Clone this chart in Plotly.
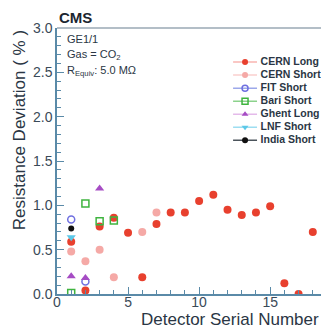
import plotly.graph_objects as go

# ---- data ----
cern_long_x = [1, 2, 3, 4, 5, 6, 7, 8, 9, 10, 11, 12, 13, 14, 15, 16, 17, 18]
cern_long_y = [0.59, 0.04, 0.76, 0.86, 0.69, 0.19, 0.79, 0.92, 0.92, 1.05, 1.12, 0.95, 0.89, 0.92, 0.99, 0.12, 0.0, 0.70]
cern_short_x = [1, 2, 3, 4, 6, 7]
cern_short_y = [0.48, 0.37, 0.50, 0.19, 0.70, 0.92]
fit_short_x = [1, 2]
fit_short_y = [0.84, 0.14]
bari_short_x = [1, 2, 3, 4]
bari_short_y = [0.01, 1.02, 0.82, 0.83]
ghent_long_x = [1, 2, 3]
ghent_long_y = [0.20, 0.18, 1.19]
lnf_short_x = [1]
lnf_short_y = [0.64]
india_short_x = [1]
india_short_y = [0.74]

series_names = ["CERN Long", "CERN Short", "FIT Short", "Bari Short", "Ghent Long", "LNF Short", "India Short"]
series_x = [cern_long_x, cern_short_x, fit_short_x, bari_short_x, ghent_long_x, lnf_short_x, india_short_x]
series_y = [cern_long_y, cern_short_y, fit_short_y, bari_short_y, ghent_long_y, lnf_short_y, india_short_y]
markers = [
    dict(symbol="circle", color="#e8402e", size=8),
    dict(symbol="circle", color="#f5a9a6", size=8),
    dict(symbol="circle-open", color="#6f6fe0", size=7, line=dict(width=1.5)),
    dict(symbol="square-open", color="#3fb43f", size=7, line=dict(width=1.5)),
    dict(symbol="triangle-up", color="#a64cc4", size=8),
    dict(symbol="triangle-down", color="#5cc8e8", size=8),
    dict(symbol="circle", color="#111111", size=6),
]
legend_line_colors = ["rgba(240,90,80,0.45)", "rgba(245,169,166,0.55)", "rgba(90,110,220,0.6)",
                      "rgba(63,180,63,0.6)", "rgba(210,140,220,0.6)", "rgba(92,200,232,0.6)",
                      "rgba(30,40,50,0.8)"]

fig = go.Figure()
for name, xs, ys, mk in zip(series_names, series_x, series_y, markers):
    fig.add_trace(go.Scatter(x=xs, y=ys, mode="markers", marker=mk, name=name, showlegend=False))

# custom legend drawn in its own small axes
for i, (name, mk, lc) in enumerate(zip(series_names, markers, legend_line_colors)):
    lmk = dict(mk)
    lmk["size"] = 6
    fig.add_trace(go.Scatter(x=[0, 1], y=[i, i], mode="lines", line=dict(color=lc, width=1.5),
                             xaxis="x2", yaxis="y2", showlegend=False, hoverinfo="skip"))
    fig.add_trace(go.Scatter(x=[0.5], y=[i], mode="markers", marker=lmk,
                             xaxis="x2", yaxis="y2", showlegend=False, hoverinfo="skip"))
fig.add_trace(go.Scatter(x=[1.15] * len(series_names), y=list(range(len(series_names))),
                         mode="text", text=[f"<b>{n}</b>" for n in series_names],
                         textposition="middle right", cliponaxis=False,
                         textfont=dict(family="Liberation Sans, Arial", size=10.5, color="#2a3644"),
                         xaxis="x2", yaxis="y2", showlegend=False, hoverinfo="skip"))

axcol = "#5a8aa8"
tickfont = dict(family="Liberation Sans, Arial", size=14, color="#3a4a58")

# page has an 8px body margin, so the figure is 321x321 drawn at (8, 8)
fig.update_layout(
    width=321, height=321,
    margin=dict(l=49, r=2, t=20, b=35),
    plot_bgcolor="white", paper_bgcolor="white",
    showlegend=False,
    xaxis=dict(range=[0, 19], showline=True, linecolor=axcol, linewidth=1.5, mirror=False,
               tickmode="array", tickvals=[0, 5, 10, 15], ticktext=["0", "5", "10", "15"],
               ticks="inside", ticklen=7, tickcolor=axcol, tickfont=tickfont,
               minor=dict(dtick=1, ticks="inside", ticklen=4, tickcolor=axcol),
               showgrid=False, zeroline=False, ticklabelstandoff=-6),
    yaxis=dict(range=[0, 3.0], showline=True, linecolor=axcol, linewidth=1.5,
               tickmode="array", tickvals=[0, 0.5, 1.0, 1.5, 2.0, 2.5, 3.0],
               ticktext=["0.0", "0.5", "1.0", "1.5", "2.0", "2.5", "3.0"],
               ticks="inside", ticklen=7, tickcolor=axcol, tickfont=tickfont,
               minor=dict(dtick=0.1, ticks="inside", ticklen=4, tickcolor=axcol),
               showgrid=False, zeroline=False),
    xaxis2=dict(domain=[0.652, 0.995], range=[0, 3.86], visible=False, anchor="y2"),
    yaxis2=dict(domain=[0.553, 0.8965], range=[6.5, -0.5], visible=False, anchor="x2"),
    shapes=[dict(type="line", xref="paper", yref="paper", x0=0, x1=1, y0=1, y1=1,
                 line=dict(color="#9aa8b4", width=1.5)),
            dict(type="line", xref="paper", yref="paper", x0=1, x1=1, y0=0, y1=1,
                 line=dict(color="#dfe4e8", width=1))],
    annotations=[
        dict(text="<b>CMS</b>", xref="paper", yref="paper", x=0.0, y=1.0, xanchor="left", yanchor="bottom",
             showarrow=False, font=dict(family="Liberation Sans, Arial", size=15, color="#1c2630")),
        dict(text="GE1/1", xref="paper", yref="paper", x=0.03, y=0.988, xanchor="left", yanchor="top",
             showarrow=False, font=dict(family="Liberation Sans, Arial", size=11, color="#2a3644")),
        dict(text="Gas = CO<sub>2</sub>", xref="paper", yref="paper", x=0.03, y=0.934, xanchor="left", yanchor="top",
             showarrow=False, font=dict(family="Liberation Sans, Arial", size=11, color="#2a3644")),
        dict(text="R<sub>Equiv</sub>: 5.0 MΩ", xref="paper", yref="paper", x=0.03, y=0.871, xanchor="left", yanchor="top",
             showarrow=False, font=dict(family="Liberation Sans, Arial", size=11, color="#2a3644")),
        dict(text="Resistance Deviation ( % )", xref="paper", yref="paper", x=-0.14, y=1.0,
             xanchor="center", yanchor="top", textangle=-90, showarrow=False,
             font=dict(family="Liberation Sans, Arial", size=17, color="#2a3644")),
        dict(text="Detector Serial Number", xref="paper", yref="paper", x=0.64, y=-0.097,
             xanchor="center", yanchor="middle", showarrow=False,
             font=dict(family="Liberation Sans, Arial", size=17, color="#2a3644")),
    ],
)

fig.write_html("out.html")
